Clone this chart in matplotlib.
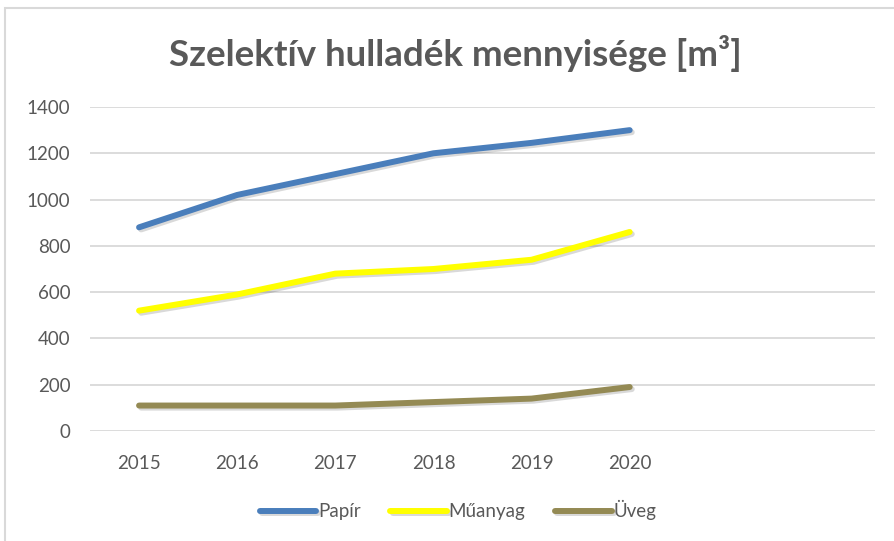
import matplotlib.pyplot as plt
import matplotlib.patheffects as pe
from matplotlib.patches import Rectangle

years = ["2015", "2016", "2017", "2018", "2019", "2020"]
papir = [880, 1020, 1110, 1200, 1245, 1300]
muanyag = [520, 590, 680, 700, 740, 860]
uveg = [110, 110, 110, 125, 140, 190]

series = [("Papír", papir, "#4a7ebb"),
          ("Műanyag", muanyag, "#ffff00"),
          ("Üveg", uveg, "#948a54")]

plt.rcParams['font.family'] = ['Lato', 'DejaVu Sans']
txt = "#595959"

fig = plt.figure(figsize=(8.94, 5.41), dpi=100)
fig.patches.append(Rectangle((5/894, -0.1), 1.2, 1 - 8/541 + 0.1, transform=fig.transFigure,
                             fill=False, edgecolor="#d9d9d9", linewidth=1.5))
ax = fig.add_axes([90/894, 1 - 431/541, (875 - 90)/894, (431 - 107)/541])

x = list(range(len(years)))
shadow = [pe.SimpleLineShadow(offset=(1.5, -1.5), shadow_color="#000000", alpha=0.15), pe.Normal()]
for name, vals, col in series:
    ax.plot(x, vals, color=col, lw=4.3, label=name, solid_capstyle="round",
            solid_joinstyle="round", path_effects=shadow, zorder=3)

ax.set_xlim(-0.5, 7.5)
ax.set_ylim(0, 1400)
ax.set_yticks(range(0, 1401, 200))
ax.set_xticks(x)
ax.set_xticklabels(years)
ax.grid(axis="y", color="#d9d9d9", lw=1.3)
ax.set_axisbelow(True)
for s in ax.spines.values():
    s.set_visible(False)
ax.tick_params(length=0, labelsize=13.5, labelcolor=txt)
ax.tick_params(axis="y", pad=14)
ax.tick_params(axis="x", pad=17)

fig.text(455/894, 1 - 53/541, "Szelektív hulladék mennyisége [m³]", ha="center", va="center",
         fontsize=26.5, fontweight="bold", color=txt)

fig.legend(loc="center", bbox_to_anchor=(458/894, 1 - 510/541), ncol=3, frameon=False,
           fontsize=13.5, labelcolor=txt, handlelength=3.0, handletextpad=0.1, columnspacing=1.6)

fig.savefig("out.png", dpi=100)
